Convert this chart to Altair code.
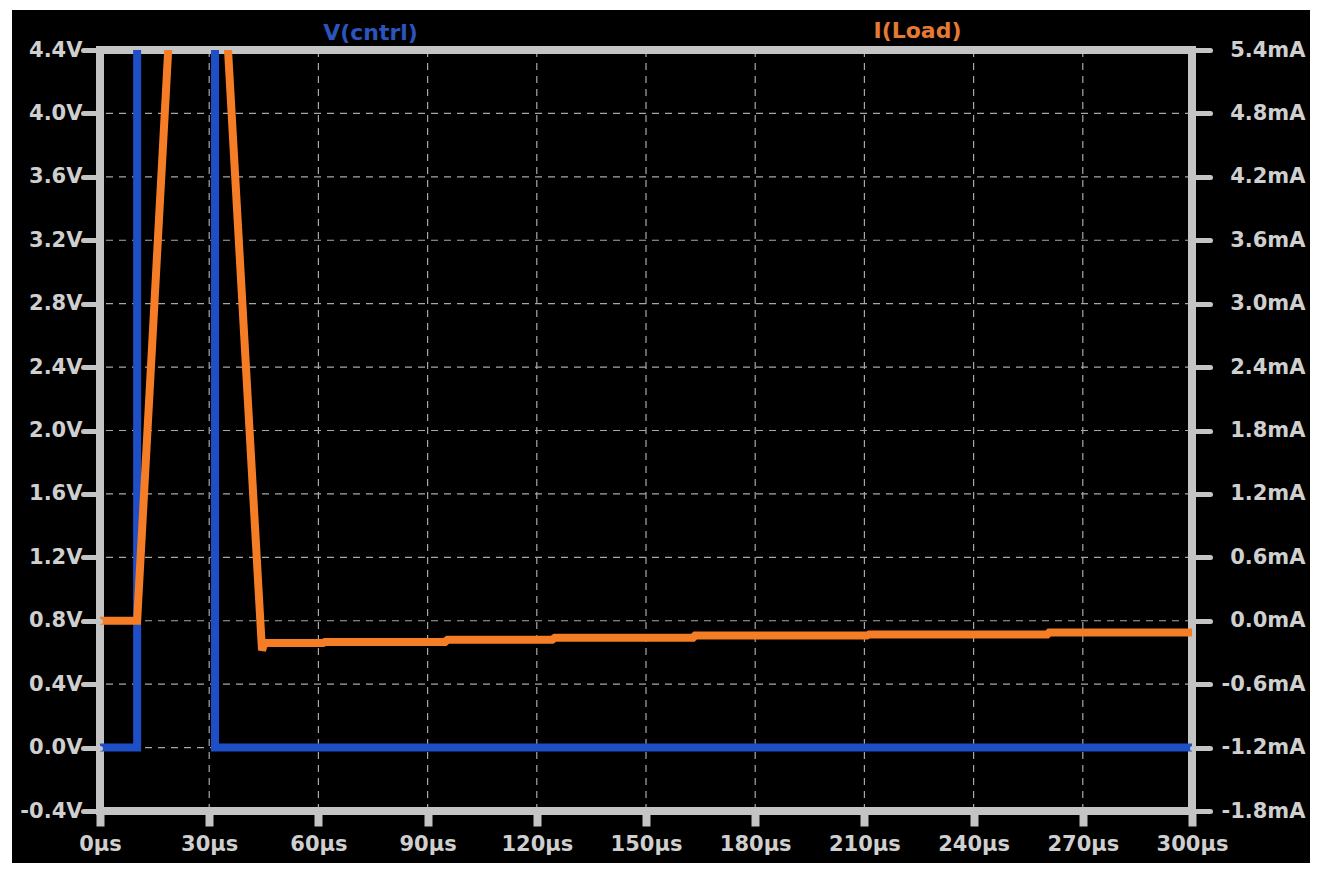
import altair as alt
import pandas as pd

# ---- data ----
t_ticks = [0, 30, 60, 90, 120, 150, 180, 210, 240, 270, 300]
v_ticks = [-0.4, 0.0, 0.4, 0.8, 1.2, 1.6, 2.0, 2.4, 2.8, 3.2, 3.6, 4.0, 4.4]
i_ticks = [-1.8, -1.2, -0.6, 0.0, 0.6, 1.2, 1.8, 2.4, 3.0, 3.6, 4.2, 4.8, 5.4]

v_time = [0, 10.2, 10.2, 31.6, 31.6, 300]
v_vals = [0.0, 0.0, 5.0, 5.0, 0.0, 0.0]

i_time = [0, 10.2, 26.8, 44.5, 45.2, 61.3, 61.8, 94.8, 95.5, 124.2, 125.0,
          162.9, 163.5, 210.7, 211.3, 260.2, 260.8, 300]
i_vals = [0.0, 0.0, 10.5, -0.28, -0.21, -0.21, -0.20, -0.20, -0.18, -0.18, -0.16,
          -0.16, -0.14, -0.14, -0.13, -0.13, -0.11, -0.11]

grid_t = t_ticks[1:-1]
grid_v = v_ticks[1:-1]
frame_t = [t_ticks[0], t_ticks[-1]]
frame_v = [v_ticks[0], v_ticks[-1]]

# ---- styles ----
W, H = 1092, 761
GRAY = "#c4c4c4"
LBL = "#cfcfcf"
FONT = "DejaVu Sans"
BLUE = "#1f4fc6"
ORANGE = "#f47d26"
FS = 21

xscale = alt.Scale(domain=[0, 300], nice=False, zero=False)
vscale = alt.Scale(domain=[-0.4, 4.4], nice=False, zero=False)
iscale = alt.Scale(domain=[-1.8, 5.4], nice=False, zero=False)

x_axis = alt.Axis(values=t_ticks, labelExpr="datum.value + 'µs'", domain=False, grid=False,
                  tickColor=GRAY, tickWidth=8, tickSize=15, labelFont=FONT, labelFontSize=FS,
                  labelFontWeight="bold", labelColor=LBL, labelPadding=7, labelFlush=False,
                  labelOverlap=False, title=None, zindex=1)

v_axis = alt.Axis(orient="left", values=v_ticks,
                  labelExpr="(datum.value < -0.001 ? '-' : '') + format(abs(datum.value), '.1f') + 'V'",
                  domain=False, grid=False, tickColor=GRAY, tickWidth=5, tickSize=17, tickCap="round",
                  labelFont=FONT, labelFontSize=FS, labelFontWeight="bold", labelColor=LBL,
                  labelPadding=1, labelOverlap=False, zindex=1,
                  title="V(cntrl)", titleAngle=0, titleX=270, titleY=-18, titleAlign="center",
                  titleBaseline="middle", titleColor="#2b54bd", titleFont=FONT, titleFontSize=22,
                  titleFontWeight="bold")

i_axis = alt.Axis(orient="right", values=i_ticks,
                  labelExpr="(datum.value < -0.001 ? '-' : '') + format(abs(datum.value), '.1f') + 'mA'",
                  domain=False, grid=False, tickColor=GRAY, tickWidth=5, tickSize=18, tickCap="round",
                  labelFont=FONT, labelFontSize=FS, labelFontWeight="bold", labelColor=LBL,
                  labelAlign="right", labelPadding=95, labelOverlap=False, zindex=1,
                  title="I(Load)", titleAngle=0, titleX=-275, titleY=-20, titleAlign="center",
                  titleBaseline="middle", titleColor="#e47a33", titleFont=FONT, titleFontSize=22,
                  titleFontWeight="bold")

# ---- layers ----
bg = alt.Chart(pd.DataFrame({"a": [0]})).mark_rect(color="black").encode(
    x=alt.value(-88), x2=alt.value(W + 118), y=alt.value(-40), y2=alt.value(H + 52))

grid_x = alt.Chart(pd.DataFrame({"t": grid_t})).mark_rule(
    color="#a8a8a8", strokeWidth=1.2, strokeDash=[7, 6]).encode(
    x=alt.X("t:Q", scale=xscale, axis=x_axis))

grid_y = alt.Chart(pd.DataFrame({"v": grid_v})).mark_rule(
    color="#a8a8a8", strokeWidth=1.2, strokeDash=[7, 6]).encode(
    y=alt.Y("v:Q", scale=vscale, axis=None))

frame_x = alt.Chart(pd.DataFrame({"t": frame_t})).mark_rule(
    color=GRAY, strokeWidth=8, strokeCap="square").encode(
    x=alt.X("t:Q", scale=xscale, axis=x_axis))

frame_y = alt.Chart(pd.DataFrame({"v": frame_v})).mark_rule(
    color=GRAY, strokeWidth=8, strokeCap="square").encode(
    y=alt.Y("v:Q", scale=vscale, axis=None))

vdf = pd.DataFrame({"t": v_time, "v": v_vals, "i": list(range(len(v_time)))})
idf = pd.DataFrame({"t": i_time, "a": i_vals, "i": list(range(len(i_time)))})

vline = alt.Chart(vdf).mark_line(color=BLUE, strokeWidth=8, clip=True, strokeJoin="miter").encode(
    x=alt.X("t:Q", scale=xscale, axis=x_axis),
    y=alt.Y("v:Q", scale=vscale, axis=v_axis),
    order="i:Q")

iline = alt.Chart(idf).mark_line(color=ORANGE, strokeWidth=8, clip=True).encode(
    x=alt.X("t:Q", scale=xscale, axis=x_axis),
    y=alt.Y("a:Q", scale=iscale, axis=i_axis),
    order="i:Q")

chart = alt.layer(bg, grid_x, grid_y, frame_x, frame_y, vline, iline).resolve_scale(
    y="independent").properties(
    width=W, height=H, background="white",
    autosize=alt.AutoSizeParams(type="none"),
    padding={"left": 100, "top": 50, "right": 125, "bottom": 58},
).configure_view(strokeWidth=0)

chart.save("out.html", embed_options={"renderer": "svg", "actions": False})
